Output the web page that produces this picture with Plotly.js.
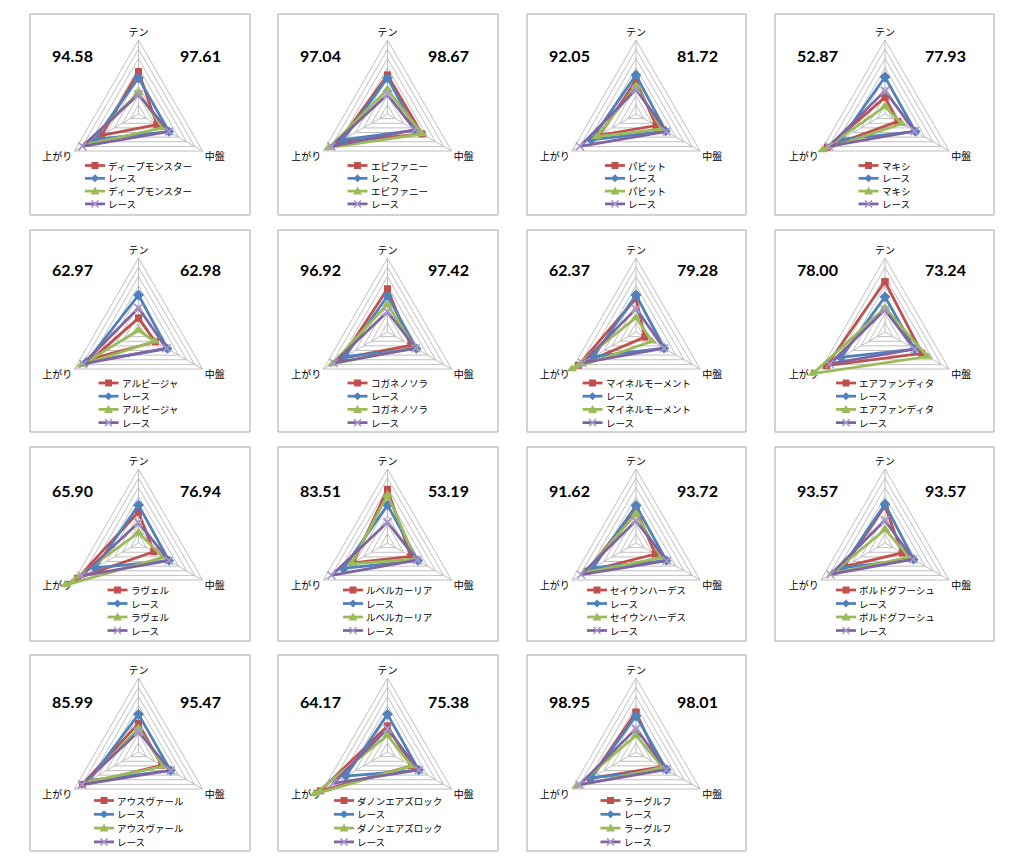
<!DOCTYPE html>
<html>
<head>
<meta charset="utf-8">
<script src="https://cdn.plot.ly/plotly-3.0.1.min.js"></script>
<style>html,body{margin:0;padding:0;background:#fff;}#chart{width:1024px;height:866px;}</style>
</head>
<body>
<div id="chart"></div>
<script>
// ---------- data ----------
const axesLabels = ['テン', '中盤', '上がり'];
const horses = ['ディープモンスター','エピファニー','パビット','マキシ',
                'アルビージャ','コガネノソラ','マイネルモーメント','エアファンディタ',
                'ラヴェル','ルベルカーリア','セイウンハーデス','ボルドグフーシュ',
                'アウスヴァール','ダノンエアズロック','ラーグルフ'];
const raceLabel = 'レース';
const scoreLeft  = [94.58, 97.04, 92.05, 52.87, 62.97, 96.92, 62.37, 78.00, 65.90, 83.51, 91.62, 93.57, 85.99, 64.17, 98.95];
const scoreRight = [97.61, 98.67, 81.72, 77.93, 62.98, 97.42, 79.28, 73.24, 76.94, 53.19, 93.72, 93.57, 95.47, 75.38, 98.01];
// values per axis: [テン, 中盤, 上がり]
const horseA = [ // red
  [4.6,2.3,4.6],[4.2,4.3,6.1],[3.6,2.5,4.6],[1.8,1.6,7.2],
  [1.5,2.1,5.7],[4.65,2.9,5.7],[3.6,1.1,7.2],[5.45,4.6,7.3],
  [3.35,1.9,7.6],[5.8,2.9,4.3],[3.7,2.4,6.1],[4.0,2.15,5.1],
  [3.1,2.9,7.0],[2.8,3.0,8.4],[4.3,3.2,5.7]];
const raceA = [ // blue
  [3.9,3.8,5.5],[3.9,3.5,5.6],[4.2,3.7,5.6],[4.0,3.8,5.5],
  [4.0,3.6,6.5],[3.9,3.6,5.3],[4.0,3.5,5.3],[3.8,3.7,5.5],
  [4.1,3.8,5.4],[4.1,3.8,5.5],[4.05,3.8,5.4],[4.2,3.55,5.4],
  [4.07,4.0,6.15],[4.07,3.9,5.2],[3.9,3.8,5.6]];
const horseB = [ // green
  [2.3,3.0,6.6],[2.65,4.3,7.3],[3.0,3.2,4.9],[0.8,2.1,7.8],
  [0.2,2.0,7.1],[3.0,3.4,6.9],[1.55,2.0,8.0],[2.6,5.3,9.0],
  [1.1,3.1,9.1],[5.2,3.5,4.5],[3.15,3.15,6.4],[1.45,3.05,6.6],
  [2.55,3.1,6.5],[1.8,3.0,9.1],[1.8,3.3,7.35]];
const raceB = [ // purple
  [2.1,3.8,7.0],[2.1,3.4,7.0],[2.65,3.8,7.0],[2.5,3.7,7.0],
  [2.6,3.5,6.9],[2.2,3.5,6.7],[2.5,3.5,6.7],[2.4,3.7,6.9],
  [2.2,3.8,7.1],[2.25,3.7,7.0],[2.4,3.85,6.85],[2.45,3.5,6.8],
  [2.2,4.0,7.05],[2.5,3.9,6.8],[2.5,3.8,7.05]];

// ---------- layout geometry & styles ----------
const W = 1024, H = 866;
const colX = [[30,250],[278,498],[527,746],[775,994]];
const rowY = [[14,215],[230,432],[447,641],[655,851]];
const colCx = [138.5, 387.5, 636, 885];
const rowCy = [114, 332, 543, 752];
const R = 74;
const RMAX = 8, RDATA = 10;          // grid range / wider data range (lets points pass the outer ring)
const R2 = R * RDATA / RMAX;
const scoreY = [55, 270, 490, 701];
const legY0 = [165.5, 383, 590, 800.5];
const legDy = [12.8, 13.2, 13.5, 13.8];
const gridCol = '#c0c0c0';
const cjk = 'Noto Sans CJK JP, sans-serif';

const styles = [
  {color:'#C0504D', symbol:'square', size:7, path:'M-3.5,-3.5 H3.5 V3.5 H-3.5 Z'},
  {color:'#4F81BD', symbol:'diamond', size:8, path:'M0,-4 L4,0 L0,4 L-4,0 Z'},
  {color:'#9BBB59', symbol:'triangle-up', size:9, path:'M-4.5,-3.5 L4.5,-3.5 L0,4.5 Z'},
  {color:'#8064A2', symbol:'x-thin', size:8, path:'M-3.5,-3.5 L3.5,3.5 M-3.5,3.5 L3.5,-3.5', xcol:'#a898cc'}
];

const px = v => v / W;
const py = v => 1 - v / H;

const data = [], shapes = [], annotations = [];
const layout = {
  width: W, height: H,
  margin: {l:0, r:0, t:0, b:0},
  paper_bgcolor: '#ffffff',
  showlegend: false,
  shapes: shapes, annotations: annotations
};

horses.forEach((name, i) => {
  const col = i % 4, row = Math.floor(i / 4);
  const cx = colCx[col], cy = rowCy[row];
  const gid = 'polar' + (2 * i + 1 === 1 ? '' : (2 * i + 1));
  const did = 'polar' + (2 * i + 2);
  // grid subplot
  layout[gid] = {
    domain: {x: [px(cx - R), px(cx + R)], y: [py(cy + R), py(cy - R)]},
    gridshape: 'linear',
    bgcolor: 'rgba(0,0,0,0)',
    radialaxis: {range: [0, RMAX], tick0: 0, dtick: 1, showticklabels: false, ticks: '',
                 showline: false, gridcolor: gridCol, gridwidth: 1},
    angularaxis: {rotation: 90, direction: 'clockwise', type: 'category',
                  categoryorder: 'array', categoryarray: axesLabels,
                  showline: true, linecolor: gridCol, linewidth: 1, gridcolor: gridCol, ticks: '',
                  tickfont: {family: cjk, size: 10, color: '#000'}}
  };
  // invisible carrier so the grid subplot (axis categories) is drawn
  data.push({type: 'scatterpolar', subplot: gid, theta: axesLabels, r: [0, 0, 0],
             mode: 'none', hoverinfo: 'skip', showlegend: false});
  // data subplot (same centre, wider range so that values above the outer ring are not cut)
  layout[did] = {
    domain: {x: [px(cx - R2), px(cx + R2)], y: [py(cy + R2), py(cy - R2)]},
    gridshape: 'linear',
    bgcolor: 'rgba(0,0,0,0)',
    radialaxis: {range: [0, RDATA], visible: false, showgrid: false},
    angularaxis: {rotation: 90, direction: 'clockwise', type: 'category',
                  categoryorder: 'array', categoryarray: axesLabels,
                  visible: false, showgrid: false, showline: false}
  };
  const series = [horseA[i], raceA[i], horseB[i], raceB[i]];
  const names = [name, raceLabel, name, raceLabel];
  series.forEach((v, s) => {
    const st = styles[s];
    const marker = {symbol: st.symbol, size: st.size, color: st.color};
    if (st.xcol) marker.line = {color: st.xcol, width: 1.5};
    data.push({
      type: 'scatterpolar', subplot: did, name: names[s],
      r: v.concat([v[0]]), theta: axesLabels.concat([axesLabels[0]]),
      mode: 'lines+markers', line: {color: st.color, width: 2.75},
      marker: marker, cliponaxis: false, hoverinfo: 'skip', showlegend: false
    });
  });

  // frame
  shapes.push({type: 'rect', xref: 'paper', yref: 'paper',
    x0: px(colX[col][0]), x1: px(colX[col][1]), y0: py(rowY[row][0]), y1: py(rowY[row][1]),
    line: {color: '#a6a6a6', width: 1}, fillcolor: 'rgba(0,0,0,0)'});

  // scores
  annotations.push({xref: 'paper', yref: 'paper', x: px(colX[col][0] + 42), y: py(scoreY[row]),
    xanchor: 'center', yanchor: 'middle', showarrow: false, text: scoreLeft[i].toFixed(2),
    font: {family: 'Lato, sans-serif', size: 16, weight: 'bold', color: '#000'}});
  annotations.push({xref: 'paper', yref: 'paper', x: px(colX[col][0] + 170), y: py(scoreY[row]),
    xanchor: 'center', yanchor: 'middle', showarrow: false, text: scoreRight[i].toFixed(2),
    font: {family: 'Lato, sans-serif', size: 16, weight: 'bold', color: '#000'}});

  // legend
  const n = name.length;
  const blockW = 20 + 2 + n * 9;
  const left = cx - 2 - blockW / 2;
  names.forEach((nm, s) => {
    const st = styles[s];
    const y = legY0[row] + s * legDy[row];
    shapes.push({type: 'line', xref: 'paper', yref: 'paper',
      x0: px(left), x1: px(left + 20), y0: py(y), y1: py(y),
      line: {color: st.color, width: 2.75}});
    const sh = {type: 'path', xref: 'paper', yref: 'paper', xsizemode: 'pixel', ysizemode: 'pixel',
      xanchor: px(left + 10), yanchor: py(y), path: st.path};
    if (st.xcol) { sh.line = {color: st.xcol, width: 1.5}; }
    else { sh.line = {width: 0}; sh.fillcolor = st.color; }
    shapes.push(sh);
    annotations.push({xref: 'paper', yref: 'paper', x: px(left + 21), y: py(y),
      xanchor: 'left', yanchor: 'middle', showarrow: false, text: nm,
      font: {family: cjk, size: 9.5, color: '#000'}});
  });
});

Plotly.newPlot('chart', data, layout, {staticPlot: true, displayModeBar: false});
</script>
</body>
</html>
